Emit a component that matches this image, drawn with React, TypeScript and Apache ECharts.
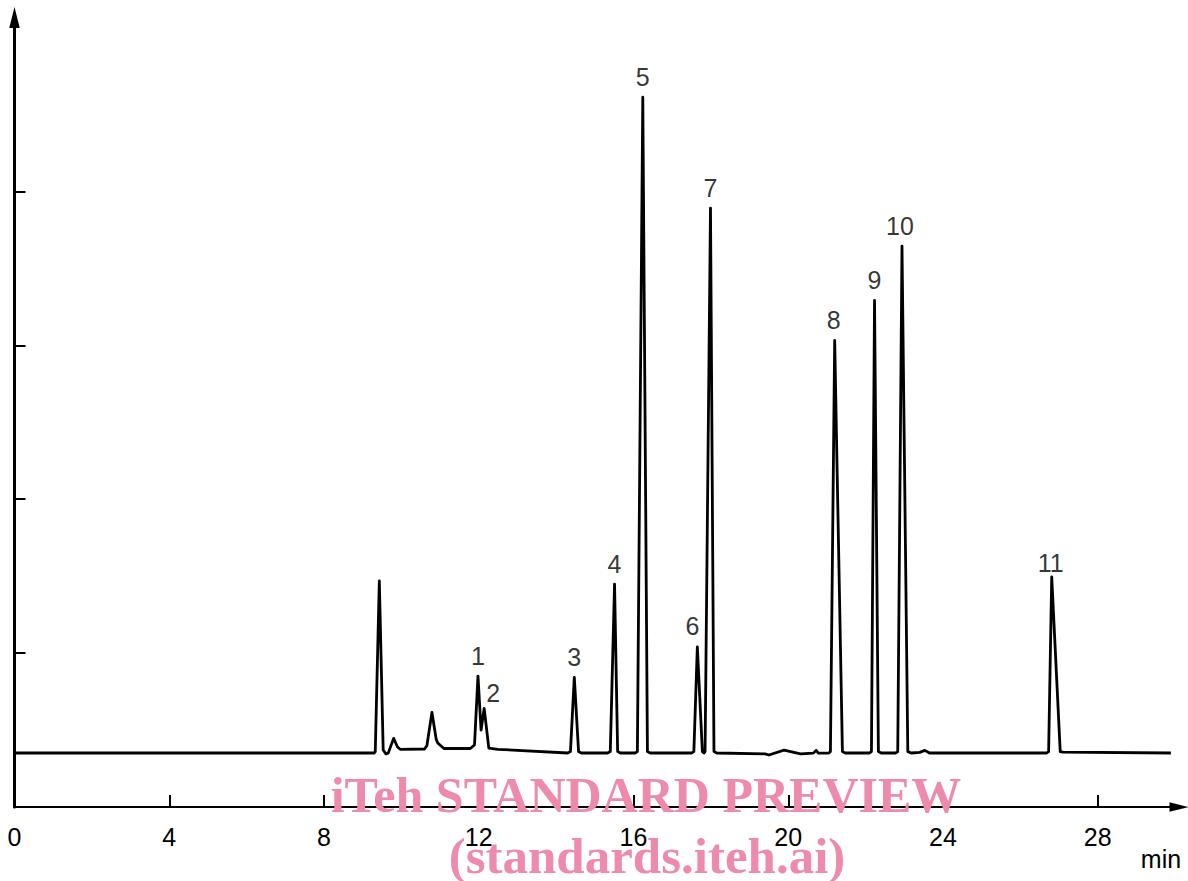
import React, { useEffect, useRef } from "react";
import * as echarts from "echarts";

// ---- data ----
const xTickInterval = 4; // min
const xMax = 30.1;
const yMax = 5.13;
const yTickValues = [1, 2, 3, 4];

// chromatogram trace: retention time (min) and detector signal (arbitrary units)
const traceTime = [
  0, 9.3, 9.325, 9.43, 9.53, 9.6, 9.66, 9.8, 9.9, 9.97, 10.6, 10.66, 10.79, 10.9, 10.94, 11.1,
  11.78, 11.89, 11.98, 12.06, 12.14, 12.26, 12.5, 14.3, 14.37, 14.47, 14.58, 14.65, 15.33, 15.4,
  15.51, 15.59, 15.66, 16.04, 16.1, 16.24, 16.36, 16.43, 17.5, 17.56, 17.65, 17.78, 17.82, 17.85,
  17.99, 18.08, 18.15, 19.4, 19.5, 19.89, 20.32, 20.65, 20.72, 20.78, 21.05, 21.09, 21.2, 21.4,
  21.47, 22.1, 22.15, 22.23, 22.33, 22.4, 22.78, 22.83, 22.94, 23.09, 23.18, 23.4, 23.53, 23.65,
  26.68, 26.73, 26.81, 27.03, 27.1, 29.89,
];
const traceSignal = [
  0.351, 0.351, 0.36, 1.469, 0.37, 0.345, 0.35, 0.446, 0.39, 0.375, 0.377, 0.4, 0.615, 0.44, 0.416, 0.38,
  0.38, 0.403, 0.851, 0.5, 0.641, 0.383, 0.375, 0.351, 0.36, 0.842, 0.36, 0.351, 0.351, 0.36,
  1.448, 0.36, 0.351, 0.351, 0.36, 4.612, 0.36, 0.351, 0.351, 0.36, 1.041, 0.36, 0.351, 0.36,
  3.892, 0.36, 0.351, 0.345, 0.338, 0.37, 0.345, 0.35, 0.368, 0.35, 0.351, 0.36, 3.032, 0.36,
  0.351, 0.351, 0.36, 3.292, 0.36, 0.351, 0.351, 0.36, 3.645, 0.36, 0.351, 0.355, 0.368, 0.351,
  0.351, 0.36, 1.495, 0.36, 0.357, 0.351,
];

// numbered peaks
const peakNames = ["1", "2", "3", "4", "5", "6", "7", "8", "9", "10", "11"];
const peakTimes = [11.98, 12.14, 14.47, 15.51, 16.24, 17.65, 17.99, 21.2, 22.23, 22.94, 26.81];
const peakHeights = [0.851, 0.641, 0.842, 1.448, 4.612, 1.041, 3.892, 3.032, 3.292, 3.645, 1.495];

const xAxisUnit = "min";
const watermarkLine1 = "iTeh STANDARD PREVIEW";
const watermarkLine2 = "(standards.iteh.ai)";

// ---- styling ----
const FONT = "'Liberation Sans', Arial, sans-serif";
const labelOffsets: Record<string, [number, number]> = {
  "2": [9, 5],
  "6": [-5, 0],
  "8": [-1, 0],
  "10": [-2, 0],
  "11": [-1, 7],
};
const arrow = "path://M5,0L10,20L0,20Z";

export default function App() {
  const ref = useRef<HTMLDivElement>(null);
  useEffect(() => {
    if (!ref.current) return;
    const chart = echarts.init(ref.current, undefined, { renderer: "svg" });
    const trace = traceTime.map((t, i) => [t, traceSignal[i]]);
    const peaks = peakNames.map((n, i) => ({
      value: [peakTimes[i], peakHeights[i]],
      name: n,
      label: { offset: labelOffsets[n] || [0, 0] },
    }));
    chart.setOption({
      animation: false,
      backgroundColor: "#fff",
      grid: { left: 14.5, right: 9, top: 17.5, bottom: 74, outerBoundsMode: "none" },
      xAxis: {
        type: "value",
        min: 0,
        max: xMax,
        interval: xTickInterval,
        axisLine: {
          show: true,
          onZero: false,
          symbol: ["none", arrow],
          symbolSize: [11, 19],
          lineStyle: { color: "#000", width: 2.2 },
        },
        axisTick: { show: true, inside: true, length: 12, lineStyle: { color: "#000", width: 2 } },
        axisLabel: {
          show: true,
          fontSize: 25,
          color: "#000",
          margin: 17,
          fontFamily: FONT,
          showMaxLabel: false,
        },
        splitLine: { show: false },
      },
      yAxis: {
        type: "value",
        min: 0,
        max: yMax,
        axisLine: {
          show: true,
          onZero: false,
          symbol: ["none", arrow],
          symbolSize: [11, 21],
          lineStyle: { color: "#000", width: 3 },
        },
        axisTick: {
          show: true,
          inside: true,
          length: 11,
          customValues: yTickValues,
          lineStyle: { color: "#000", width: 2 },
        },
        axisLabel: { show: false },
        splitLine: { show: false },
      },
      series: [
        {
          type: "line",
          data: trace,
          showSymbol: false,
          symbol: "none",
          smooth: false,
          lineStyle: { color: "#000", width: 2.8, join: "round" },
          z: 2,
        },
        {
          type: "scatter",
          data: peaks,
          symbolSize: 0,
          itemStyle: { color: "transparent" },
          label: {
            show: true,
            position: "top",
            distance: 8,
            formatter: (p: any) => p.name,
            fontSize: 25,
            color: "#000",
            fontFamily: FONT,
          },
          z: 3,
        },
      ],
      graphic: [
        {
          type: "text",
          x: 1161,
          y: 859,
          style: {
            text: xAxisUnit,
            font: `25px ${FONT}`,
            fill: "#000",
            textAlign: "center",
            textVerticalAlign: "middle",
          },
        },
        {
          type: "text",
          x: 646,
          y: 795,
          z: 100,
          style: {
            text: watermarkLine1,
            font: "bold 50px 'Liberation Serif', 'Times New Roman', serif",
            fill: "#ee8aab",
            textAlign: "center",
            textVerticalAlign: "middle",
          },
        },
        {
          type: "text",
          x: 647,
          y: 856,
          z: 100,
          style: {
            text: watermarkLine2,
            font: "bold 51px 'Liberation Serif', 'Times New Roman', serif",
            fill: "#ee8aab",
            textAlign: "center",
            textVerticalAlign: "middle",
          },
        },
      ],
    });
    return () => chart.dispose();
  }, []);
  return (
    <div
      ref={ref}
      style={{ position: "fixed", left: 0, top: 0, width: 1188, height: 881, background: "#fff" }}
    />
  );
}
